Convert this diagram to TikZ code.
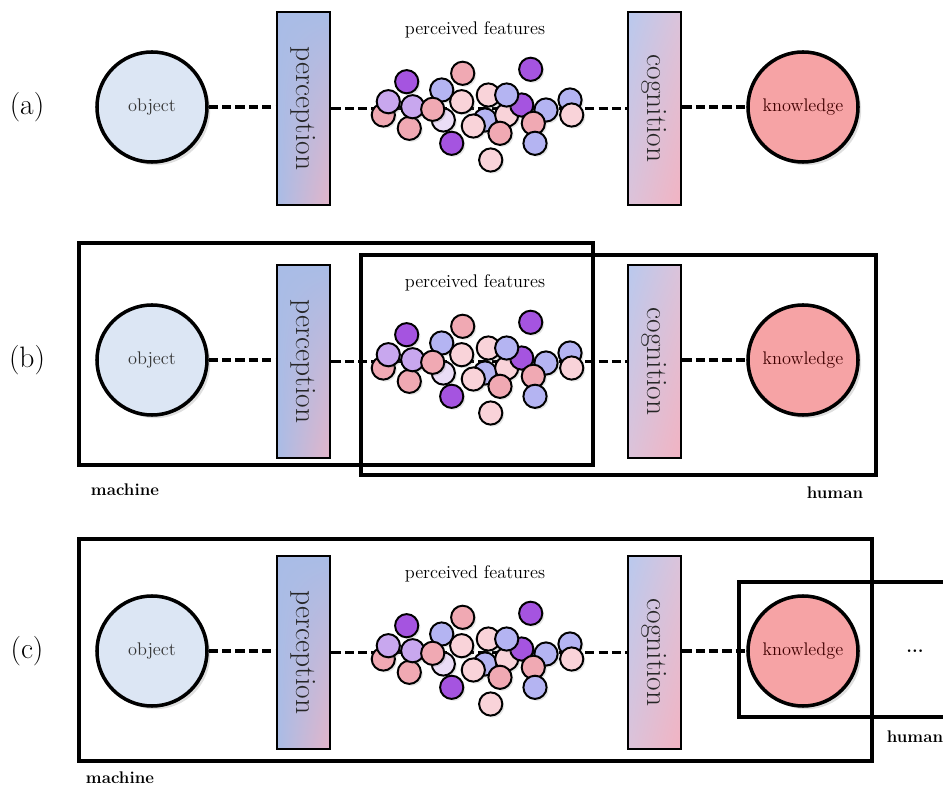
\documentclass[tikz,border=0pt]{standalone}
\usepackage{graphicx}
\usetikzlibrary{positioning,shadings,shadows}
\definecolor{objblue}{HTML}{DCE6F4}
\definecolor{knowpink}{HTML}{F6A3A5}
\definecolor{percblue}{HTML}{A9BCE6}
\definecolor{percmid}{HTML}{B3BCE2}
\definecolor{cogblue}{HTML}{B9C9EE}
\definecolor{cogmid}{HTML}{DCC3DA}
\definecolor{cogpink}{HTML}{F2B3C2}
\definecolor{featpurple}{HTML}{A554E0}
\definecolor{featlav}{HTML}{C8A7EE}
\definecolor{featblue}{HTML}{B4B4F2}
\definecolor{featpink}{HTML}{F0A9B3}
\definecolor{featrose}{HTML}{F9D3D9}
\definecolor{featpale}{HTML}{EADDF6}

\begin{document}
\begin{tikzpicture}[x=0.025cm,y=-0.025cm,
 bigball/.style={circle,draw=black,line width=2.5pt,minimum size=2.75cm,inner sep=0pt,
  font=\fontsize{13}{15}\selectfont,
  drop shadow={opacity=.25,shadow xshift=.08cm,shadow yshift=-.08cm}},
 objball/.style={bigball,fill=objblue,text=black!80},
 knowball/.style={bigball,fill=knowpink,text=red!25!black},
 stage/.style={rectangle,draw=black,line width=2pt,minimum width=1.325cm,
  minimum height=4.825cm,inner sep=0pt,font=\fontsize{21}{22}\selectfont,text=black!85},
 percbox/.style={stage,upper left=percblue,upper right=percblue,lower left=percblue,lower right=cogpink!80!percblue},
 cogbox/.style={stage,upper left=cogblue,upper right=cogmid,lower left=cogmid,lower right=cogpink},
 feat/.style={circle,draw=black,line width=1.4pt,minimum size=0.58cm,inner sep=0pt,
  drop shadow={opacity=.2,shadow xshift=.05cm,shadow yshift=-.05cm}},
 link/.style={line width=2.6pt,dash pattern=on 6.5pt off 3pt},
 frame/.style={draw=black,line width=2.4pt},
 rowlabel/.style={font=\fontsize{21}{23}\selectfont},
 caption/.style={font=\fontsize{13}{15}\selectfont},
 who/.style={font=\bfseries\fontsize{12}{14}\selectfont}]

\useasboundingbox (0,0) rectangle (943,787);

% Three rows of the same pipeline
\foreach \r/\off in {a/0,b/253,c/544}{
 \node[rowlabel] (lab\r) at (27,107+\off) {(\r)};
 \node[objball] (obj\r) at (152,107+\off) {object};
 \node[percbox] (perc\r) at (303.5,108.5+\off) {\rotatebox{-90}{perception}};
 \node[cogbox] (cog\r) at (654.5,108.5+\off) {\rotatebox{-90}{cognition}};
 \node[knowball] (know\r) at (803,107+\off) {knowledge};
 \node[caption] (cap\r) at (475,30+\off) {perceived features};

 % connectors, drawn before the feature cloud
 \draw[link] (obj\r.east) -- (obj\r.east -| perc\r.west);
 \draw[link] (perc\r) -- (cog\r);
 \draw[link] (cog\r.east |- know\r.west) -- (know\r.west);

 % perceived features
 \foreach \px/\py/\pc [count=\k] in {
  383.3/115/featpink, 388.3/101.7/featlav, 409.3/128.3/featpink,
  412.7/106.7/featlav, 406.7/81.7/featpurple, 443.3/120/featpale,
  441.7/90/featblue, 432.7/109.3/featpink, 461.7/101.7/featrose,
  462.7/73.3/featpink, 451.7/143.3/featpurple, 485/120/featblue,
  473.3/126/featrose, 488.3/95/featrose, 506.7/115/featrose,
  521.7/105/featpurple, 506.7/95/featblue, 500/133.3/featpink,
  546/110/featblue, 533.3/123.3/featpink, 535/143.3/featblue,
  530.7/69.3/featpurple, 570/100/featblue, 571.7/115/featrose,
  490.7/160/featrose}
  \node[feat,fill=\pc] (f\r\k) at (\px,\py+\off) {};
}

% Who does what: row (b)
\draw[frame] (79,243) rectangle (593,465);
\draw[frame] (361,255) rectangle (876,475);
\node[who] (machb) at (125,490) {machine};
\node[who] (humb) at (835,493) {human};

% Who does what: row (c)
\draw[frame] (79,539) rectangle (872,761);
\draw[frame] (739,582) rectangle (960,717);
\node[font=\bfseries\fontsize{13}{15}\selectfont] (dotsc) at (915,651) {...};
\node[who] (machc) at (120,778) {machine};
\node[who] (humc) at (915,737) {human};
\end{tikzpicture}
\end{document}
